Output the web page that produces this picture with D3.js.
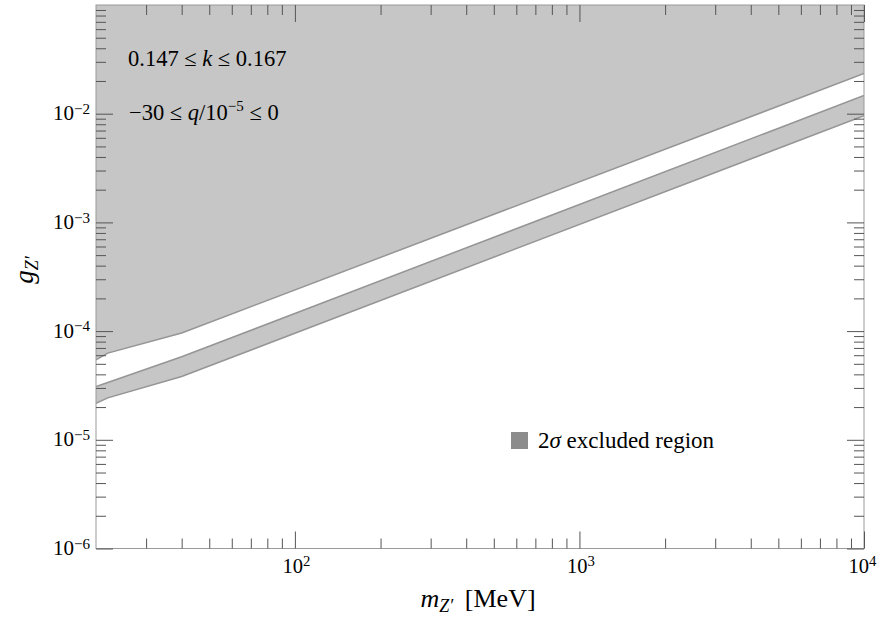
<!DOCTYPE html>
<html lang="en">
<head>
    <meta charset="UTF-8">
    <title>Z' coupling exclusion</title>
    <style>
        body { margin: 0; background: #fff; }
        svg text { font-family: "Liberation Serif", "DejaVu Serif", serif; fill: #000; }
        .tick line { stroke: #555; }
        .axis path.domain { display: none; }
    </style>
</head>
<body>
    <script src="https://d3js.org/d3.v7.min.js"></script>
    <script>
        const width = 879;
        const height = 621;
        const padding = { left: 96, right: 15, top: 5, bottom: 72.5 };

        // boundary curves (MeV, coupling)
        const mass = [20, 22, 40, 10000];
        const gUpper = [5.45e-5, 6.27e-5, 9.6e-5, 2.34e-2];
        const gBandHi = [3.09e-5, 3.37e-5, 5.8e-5, 1.47e-2];
        const gBandLo = [2.17e-5, 2.43e-5, 3.82e-5, 9.6e-3];

        const xDomain = [20, 10000];
        const yDomain = [1e-6, 1e-1];
        const xMajor = [100, 1000, 10000];
        const xMajorExp = ['2', '3', '4'];
        const yMajor = [1e-6, 1e-5, 1e-4, 1e-3, 1e-2];
        const yMajorExp = ['\u22126', '\u22125', '\u22124', '\u22123', '\u22122'];

        const fillColor = '#c6c6c6';
        const edgeColor = '#959595';

        const innerW = width - padding.left - padding.right;
        const innerH = height - padding.top - padding.bottom;

        const xScale = d3.scaleLog().domain(xDomain).range([0, innerW]);
        const yScale = d3.scaleLog().domain(yDomain).range([innerH, 0]);

        // minor tick positions 2..9 x 10^n inside the domains
        const minorTicks = function (lo, hi) {
            const out = [];
            for (let e = Math.floor(Math.log10(lo)); e <= Math.ceil(Math.log10(hi)); e++) {
                for (let k = 2; k <= 9; k++) {
                    const v = k * Math.pow(10, e);
                    if (v > lo * 1.0001 && v < hi * 0.9999) out.push(v);
                }
            }
            return out;
        };
        const xMinor = minorTicks(xDomain[0], xDomain[1]);
        const yMinor = minorTicks(yDomain[0], yDomain[1]);

        const svg = d3.select('body').append('svg').attr('width', width).attr('height', height);
        const g = svg.append('g').attr('transform', 'translate(' + padding.left + ',' + padding.top + ')');

        g.append('clipPath').attr('id', 'plotClip')
            .append('rect').attr('width', innerW).attr('height', innerH);

        const plot = g.append('g').attr('clip-path', 'url(#plotClip)');

        const pts = mass.map(function (m, i) {
            return { m: m, up: gUpper[i], hi: gBandHi[i], lo: gBandLo[i] };
        });

        // excluded region above the upper curve
        plot.append('path')
            .datum(pts)
            .attr('fill', fillColor)
            .attr('d', d3.area()
                .x(function (d) { return xScale(d.m); })
                .y0(function () { return yScale(yDomain[1]) - 2; })
                .y1(function (d) { return yScale(d.up); }));

        // excluded band
        plot.append('path')
            .datum(pts)
            .attr('fill', fillColor)
            .attr('d', d3.area()
                .x(function (d) { return xScale(d.m); })
                .y0(function (d) { return yScale(d.lo); })
                .y1(function (d) { return yScale(d.hi); }));

        ['up', 'hi', 'lo'].forEach(function (key) {
            plot.append('path')
                .datum(pts)
                .attr('fill', 'none')
                .attr('stroke', edgeColor)
                .attr('stroke-width', 1.5)
                .attr('d', d3.line()
                    .x(function (d) { return xScale(d.m); })
                    .y(function (d) { return yScale(d[key]); }));
        });

        // frame
        g.append('rect')
            .attr('width', innerW).attr('height', innerH)
            .attr('fill', 'none').attr('stroke', '#9a9a9a').attr('stroke-width', 1);

        const addAxis = function (axisFn, scale, values, size, transform) {
            return g.append('g')
                .attr('class', 'axis')
                .attr('transform', transform)
                .call(axisFn(scale).tickValues(values).tickSize(size).tickSizeOuter(0).tickFormat(''));
        };

        // minor ticks on all four sides
        addAxis(d3.axisBottom, xScale, xMinor, -10, 'translate(0,' + innerH + ')');
        addAxis(d3.axisTop, xScale, xMinor, -10, 'translate(0,0)');
        addAxis(d3.axisLeft, yScale, yMinor, -10, 'translate(0,0)');
        addAxis(d3.axisRight, yScale, yMinor, -10, 'translate(' + innerW + ',0)');

        // major ticks
        const xBottom = addAxis(d3.axisBottom, xScale, xMajor, -17, 'translate(0,' + innerH + ')');
        addAxis(d3.axisTop, xScale, xMajor, -17, 'translate(0,0)');
        const yLeft = addAxis(d3.axisLeft, yScale, yMajor, -17, 'translate(0,0)');
        addAxis(d3.axisRight, yScale, yMajor, -17, 'translate(' + innerW + ',0)');
        g.selectAll('.axis .tick line').attr('stroke', '#555').attr('stroke-width', 1);

        // power-of-ten labels
        const powerLabel = function (sel, exp) {
            sel.text('');
            sel.append('tspan').text('10');
            sel.append('tspan').attr('dy', '-0.42em').attr('font-size', '0.72em').text(exp);
        };

        xBottom.selectAll('.tick text').each(function (d, i) {
            const shift = i === xMajor.length - 1 ? -2 : 1;
            const t = d3.select(this)
                .attr('y', 0).attr('dy', 0)
                .attr('transform', 'translate(' + shift + ',24)')
                .attr('font-size', 20.5)
                .attr('text-anchor', 'middle')
                .attr('fill', '#000');
            powerLabel(t, xMajorExp[i]);
        });

        yLeft.selectAll('.tick text').each(function (d, i) {
            const t = d3.select(this)
                .attr('x', -6).attr('dy', 0)
                .attr('transform', 'translate(0,6)')
                .attr('font-size', 21)
                .attr('text-anchor', 'end')
                .attr('fill', '#000');
            powerLabel(t, yMajorExp[i]);
        });

        // axis titles
        const xTitle = svg.append('text')
            .attr('x', 478)
            .attr('y', 607)
            .attr('text-anchor', 'middle')
            .attr('font-size', 26);
        xTitle.append('tspan').attr('font-style', 'italic').text('m');
        xTitle.append('tspan').attr('font-style', 'italic').attr('font-size', 18).attr('dy', 5).text('Z\u2032');
        xTitle.append('tspan').attr('dy', -5).text('\u2009 [MeV]');

        const yTitle = svg.append('text')
            .attr('transform', 'translate(33,270) rotate(-90)')
            .attr('text-anchor', 'middle')
            .attr('font-size', 27);
        yTitle.append('tspan').attr('font-style', 'italic').text('g');
        yTitle.append('tspan').attr('font-style', 'italic').attr('font-size', 18).attr('dy', 5).text('Z\u2032');

        // annotations
        const note1 = svg.append('text').attr('x', 128).attr('y', 66).attr('font-size', 22.5);
        note1.append('tspan').text('0.147 \u2264 ');
        note1.append('tspan').attr('font-style', 'italic').text('k');
        note1.append('tspan').text(' \u2264 0.167');

        const note2 = svg.append('text').attr('x', 129).attr('y', 120).attr('font-size', 22.5);
        note2.append('tspan').text('\u221230 \u2264 ');
        note2.append('tspan').attr('font-style', 'italic').text('q');
        note2.append('tspan').text('/10');
        note2.append('tspan').attr('font-size', 15).attr('dy', -9).text('\u22125');
        note2.append('tspan').attr('dy', 9).text(' \u2264 0');

        // legend
        svg.append('rect')
            .attr('x', 511).attr('y', 432).attr('width', 17).attr('height', 17)
            .attr('fill', '#8c8c8c');
        const leg = svg.append('text').attr('x', 538).attr('y', 448).attr('font-size', 23);
        leg.append('tspan').text('2');
        leg.append('tspan').attr('font-style', 'italic').text('\u03c3');
        leg.append('tspan').text(' excluded region');
    </script>
</body>
</html>
